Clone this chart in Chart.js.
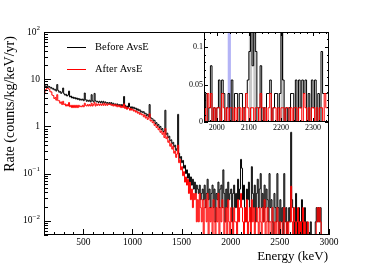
<!DOCTYPE html>
<html>
<head>
<meta charset="utf-8">
<script src="https://cdn.jsdelivr.net/npm/chart.js@4.4.1/dist/chart.umd.min.js"></script>
<style>
html, body { margin: 0; padding: 0; background: #fff; }
#wrap { position: relative; width: 374px; height: 268px; }
#wrap canvas { position: absolute; left: 0; top: 0; }
</style>
</head>
<body>
<div id="wrap">
  <canvas id="main" width="374" height="268"></canvas>
  <canvas id="inset" width="374" height="268"></canvas>
</div>
<script>
// spectrum, 10 keV bins from 100 keV (counts/kg/keV/yr)
const mainStart = 100;
const mainBin = 10;
const beforeRate = [
  6.6, 7.2, 6.9, 7.3, 6.8, 7.0, 6.5, 6.7, 6.2, 6.4,
  5.9, 6.1, 5.6, 7.7, 5.8, 5.3, 5.5, 5.0, 5.3, 6.5,
  4.9, 4.6, 4.8, 4.4, 4.6, 5.6, 4.2, 4.4, 4.0, 4.2,
  3.9, 4.1, 3.8, 4.0, 3.7, 3.9, 3.6, 3.8, 3.6, 3.8,
  3.5, 5.1, 3.7, 3.4, 3.6, 3.4, 3.6, 3.3, 4.7, 3.5,
  3.3, 5.0, 3.5, 3.3, 3.4, 3.2, 3.4, 3.2, 3.4, 3.1,
  3.4, 3.1, 3.3, 3.1, 3.2, 3.0, 3.2, 3.0, 3.2, 2.9,
  3.1, 2.9, 3.0, 2.8, 3.0, 2.8, 2.9, 2.7, 2.9, 2.7,
  2.9, 4.3, 2.8, 2.6, 2.7, 2.5, 3.1, 2.6, 2.4, 2.6,
  2.4, 2.55, 2.35, 2.45, 2.2, 2.35, 2.15, 2.25, 2.0, 2.1,
  1.95, 2.05, 1.85, 1.9, 1.7, 1.8, 1.6, 2.9, 1.55, 1.45,
  1.45, 1.3, 1.35, 1.15, 1.2, 1.05, 1.1, 0.95, 1.0, 0.85,
  0.9, 0.78, 0.8, 2.2, 0.68, 0.72, 0.58, 0.62, 0.5, 0.52,
  0.43, 0.46, 0.37, 0.4, 0.31, 0.34, 1.8, 0.27, 0.21, 0.23,
  0.17, 0.19, 0.13, 0.15, 0.1, 0.12, 0.08, 0.1, 0.066, 0.085,
  0.057, 0.076, 0.047, 0.066, 0.038, 0.057, 0.047, 0.038, 0.057, 0.028,
  0.038, 0.047, 0.028, 0.057, 0.019, 0.038, 0.076, 0.028, 0.047, 0.019,
  0.038, 0.057, 0.019, 0.047, 0.0095, 0.038, 0.028, 0.066, 0.019, 0.047,
  0.057, 0.019, 0.12, 0.038, 0.0095, 0.047, 0.019, 0.066, 0.028, 0.038,
  0.047, 0.0095, 0.038, 0.057, 0.019, 0.038, 0.019, 0.076, 0.028, 0.047,
  0.2, 0.13, 0.028, 0.057, 0.019, 0.0095, 0.047, 0.028, 0.066, 0.019,
  0.0095, 0.14, 0.038, 0.019, 0.057, 0.0095, 0.038, 0.076, 0.019, 0.047,
  0.1, 0.019, 0.038, 0.0095, 0.057, 0.019, 0.047, 0.028, 0.0095, 0.1,
  0.019, 0.028, 0.0095, 0, 0.038, 0.019, 0.0095, 0.1, 0.019, 0,
  0.028, 0.0095, 0.019, 0, 0.1, 0.0095, 0.019, 0, 0.0095, 0.019,
  0.0095, 0.75, 0.028, 0.019, 0.0095, 0, 0.038, 0.0095, 0, 0.019,
  0.0095, 0, 0.028, 0, 0.0095, 0.019, 0, 0.0095, 0, 0,
  0, 0.0095, 0, 0, 0, 0, 0.0095, 0.019, 0.0095, 0.019,
  0.0095, 0.019, 0, 0, 0, 0, 0, 0, 0, 0
];
const afterRate = [
  5.0, 5.9, 6.2, 6.7, 6.3, 6.1, 5.4, 5.4, 4.6, 4.5,
  3.9, 4.1, 3.6, 4.7, 3.5, 3.5, 3.1, 3.3, 2.9, 3.4,
  2.9, 3.0, 2.7, 2.9, 2.7, 3.2, 2.6, 2.8, 2.5, 2.8,
  2.5, 2.8, 2.5, 2.8, 2.5, 2.8, 2.6, 2.7, 2.6, 2.8,
  2.6, 3.1, 2.8, 2.7, 2.9, 2.7, 2.9, 2.7, 3.1, 2.7,
  2.9, 3.2, 2.7, 3.0, 2.8, 3.0, 2.8, 3.0, 2.8, 3.0,
  2.8, 3.1, 2.8, 3.0, 2.8, 3.0, 2.9, 3.0, 2.8, 2.9,
  2.7, 2.9, 2.7, 2.9, 2.6, 2.8, 2.6, 2.8, 2.5, 2.7,
  2.5, 3.0, 2.4, 2.6, 2.3, 2.5, 2.4, 2.2, 2.4, 2.2,
  2.3, 2.1, 2.2, 2.0, 2.1, 1.9, 2.0, 1.8, 1.9, 1.75,
  1.8, 1.6, 1.75, 1.5, 1.6, 1.4, 1.5, 1.85, 1.3, 1.35,
  1.2, 1.25, 1.05, 1.1, 0.95, 1.0, 0.85, 0.9, 0.75, 0.8,
  0.68, 0.74, 0.58, 0.9, 0.55, 0.6, 0.46, 0.5, 0.38, 0.43,
  0.33, 0.38, 0.27, 0.3, 0.22, 0.26, 0.4, 0.17, 0.2, 0.12,
  0.14, 0.09, 0.11, 0.066, 0.085, 0.057, 0.076, 0.038, 0.066, 0.028,
  0.047, 0.019, 0.038, 0.028, 0.038, 0.0095, 0.028, 0.0095, 0.038, 0.019,
  0.0095, 0.028, 0, 0.019, 0.028, 0.0095, 0.038, 0, 0.019, 0.0095,
  0.019, 0, 0.028, 0.0095, 0, 0.019, 0.0095, 0.038, 0, 0.019,
  0.0095, 0.028, 0.019, 0, 0.0095, 0.019, 0, 0.028, 0.0095, 0,
  0.019, 0.0095, 0, 0.019, 0.0095, 0.0095, 0, 0.028, 0.0095, 0.019,
  0.038, 0.019, 0.0095, 0, 0.019, 0.0095, 0.028, 0, 0.0095, 0.019,
  0, 0.028, 0.0095, 0.019, 0, 0.0095, 0.019, 0.0095, 0, 0.019,
  0.0095, 0, 0.019, 0.0095, 0.028, 0, 0.0095, 0.019, 0, 0.0095,
  0.0095, 0, 0.019, 0.0095, 0, 0.0095, 0, 0.019, 0.0095, 0,
  0.0095, 0, 0, 0.0095, 0.019, 0, 0, 0.0095, 0, 0.0095,
  0.0095, 0.054, 0.0095, 0, 0.019, 0.0095, 0, 0.0095, 0.019, 0,
  0.0095, 0, 0.0095, 0.019, 0, 0.0095, 0, 0, 0.0095, 0,
  0, 0, 0, 0, 0, 0, 0, 0.0095, 0.019, 0.0095,
  0.019, 0.0095, 0, 0, 0, 0, 0, 0, 0, 0
];

// inset: 5 keV bins from 1960 keV
const insetStart = 1960;
const insetBin = 5;
const insetBefore = [
  0.019, 0.038, 0, 0.019, 0.075, 0, 0.019, 0, 0.019, 0.056,
  0, 0.056, 0.038, 0, 0.019, 0.038, 0, 0.056, 0, 0.038,
  0.038, 0, 0.038, 0.038, 0, 0.019, 0.038, 0.056, 0.094, 0.131,
  0.075, 0.131, 0.094, 0, 0.019, 0.075, 0, 0.019, 0, 0.038,
  0.038, 0.056, 0, 0.019, 0.038, 0.038, 0, 0.038, 0.131, 0.056,
  0, 0.019, 0, 0.019, 0.038, 0.038, 0, 0.056, 0, 0.056,
  0.019, 0.056, 0.038, 0.056, 0, 0.038, 0, 0.056, 0.019, 0.056,
  0, 0.038, 0, 0.094, 0.038, 0.038, 0.038, 0.038
];
const insetAfter = [
  0.019, 0, 0.038, 0.019, 0.038, 0, 0.019, 0, 0.019, 0.019,
  0, 0.038, 0.019, 0, 0.019, 0, 0.019, 0.019, 0, 0.019,
  0, 0.019, 0.019, 0, 0.019, 0, 0.038, 0.019, 0, 0.019,
  0.019, 0, 0.019, 0.019, 0, 0.038, 0.019, 0, 0.019, 0,
  0.019, 0.038, 0, 0.019, 0.019, 0, 0.019, 0, 0.019, 0.019,
  0, 0.019, 0.019, 0, 0.019, 0, 0.019, 0.019, 0, 0.019,
  0.019, 0, 0.038, 0.019, 0, 0.019, 0, 0.019, 0.019, 0,
  0.019, 0, 0.019, 0.019, 0, 0.038, 0.019, 0.019
];
const insetGrayBands = [[2100, 2110], [2114, 2124], [2199, 2209]];
const insetBlueBand = [2034, 2044];

// axes
const mainXTicks = [500, 1000, 1500, 2000, 2500, 3000];
const mainYTicks = [0.01, 0.1, 1, 10, 100];
const mainYLabels = [['10', '\u22122'], ['10', '\u22121'], ['1', ''], ['10', ''], ['10', '2']];
const insetXTicks = [2000, 2100, 2200, 2300];
const insetYTicks = [0, 0.05, 0.1];
const insetYLabels = ['0', '0.05', '0.1'];

const SERIF = '"Liberation Serif", "DejaVu Serif", serif';

function histPoints(start, width, vals, floor) {
  const pts = vals.map((v, i) => ({ x: start + i * width, y: v > 0 ? v : floor }));
  pts.push({ x: start + vals.length * width, y: pts[pts.length - 1].y });
  return pts;
}

function hline(ctx, x1, x2, y) {
  ctx.beginPath(); ctx.moveTo(x1, y); ctx.lineTo(x2, y); ctx.stroke();
}
function vline(ctx, x, y1, y2) {
  ctx.beginPath(); ctx.moveTo(x, y1); ctx.lineTo(x, y2); ctx.stroke();
}

const mainDecor = {
  id: 'mainDecor',
  afterDraw(chart) {
    const { ctx, chartArea: a, scales: { x, y } } = chart;
    ctx.save();
    ctx.strokeStyle = '#000';
    ctx.lineWidth = 1;
    ctx.strokeRect(a.left + 0.5, a.top + 0.5, a.right - a.left - 1, a.bottom - a.top - 1);

    // x ticks
    for (let v = 100; v <= 3000; v += 100) {
      const px = Math.round(x.getPixelForValue(v)) + 0.5;
      vline(ctx, px, a.bottom, a.bottom - (v % 500 === 0 ? 6 : 3));
    }
    // y ticks (log)
    for (let e = -3; e <= 2; e++) {
      for (let m = 1; m <= 9; m++) {
        const v = m * Math.pow(10, e);
        if (v < y.min || v > y.max) continue;
        const py = Math.round(y.getPixelForValue(v)) + 0.5;
        hline(ctx, a.left, a.left + (m === 1 ? 7 : 4), py);
      }
    }

    ctx.fillStyle = '#000';
    ctx.font = '9.5px ' + SERIF;
    ctx.textAlign = 'center';
    ctx.textBaseline = 'middle';
    mainXTicks.forEach(v => ctx.fillText(String(v), x.getPixelForValue(v), a.bottom + 7));

    mainYTicks.forEach((v, i) => {
      const py = y.getPixelForValue(v);
      const [base, sup] = mainYLabels[i];
      ctx.textAlign = 'right';
      ctx.font = '7px ' + SERIF;
      const sw = sup ? ctx.measureText(sup).width : 0;
      if (sup) ctx.fillText(sup, a.left - 4, py - 4);
      ctx.font = '9.5px ' + SERIF;
      ctx.fillText(base, a.left - 4 - sw, py);
    });

    // legend
    ctx.lineWidth = 1;
    ctx.strokeStyle = '#000';
    hline(ctx, 67, 86, 47.5);
    ctx.strokeStyle = '#ff0000';
    hline(ctx, 67, 86, 69.5);
    ctx.font = '10.5px ' + SERIF;
    ctx.textAlign = 'left';
    ctx.fillText('Before AvsE', 95, 47);
    ctx.fillText('After AvsE', 95, 69);

    // axis titles
    ctx.font = '13px ' + SERIF;
    ctx.textAlign = 'right';
    ctx.fillText('Energy (keV)', a.right - 1, 257);
    ctx.font = '14px ' + SERIF;
    ctx.translate(10, 104);
    ctx.rotate(-Math.PI / 2);
    ctx.textAlign = 'center';
    ctx.fillText('Rate (counts/kg/keV/yr)', 0, 0);
    ctx.restore();
  }
};

const insetDecor = {
  id: 'insetDecor',
  beforeDatasetsDraw(chart) {
    const { ctx, chartArea: a, scales: { x } } = chart;
    ctx.save();
    ctx.fillStyle = '#fff';
    ctx.fillRect(a.left, a.top, a.right - a.left, a.bottom - a.top);
    ctx.fillStyle = '#c8c8c8';
    insetGrayBands.forEach(([e1, e2]) => {
      const x1 = x.getPixelForValue(e1), x2 = x.getPixelForValue(e2);
      ctx.fillRect(x1, a.top, x2 - x1, a.bottom - a.top);
    });
    ctx.fillStyle = '#b4b4f6';
    const b1 = x.getPixelForValue(insetBlueBand[0]), b2 = x.getPixelForValue(insetBlueBand[1]);
    ctx.fillRect(b1, a.top, b2 - b1, a.bottom - a.top);
    ctx.restore();
  },
  afterDraw(chart) {
    const { ctx, chartArea: a, scales: { x, y } } = chart;
    ctx.save();
    ctx.strokeStyle = '#000';
    ctx.lineWidth = 1;
    ctx.strokeRect(a.left + 0.5, a.top + 0.5, a.right - a.left - 1, a.bottom - a.top - 1);
    for (let v = 1960; v <= 2350; v += 20) {
      const px = Math.round(x.getPixelForValue(v)) + 0.5;
      const len = v % 100 === 0 ? 4 : 2;
      vline(ctx, px, a.bottom, a.bottom - len);
      vline(ctx, px, a.top, a.top + len);
    }
    for (let k = 0; k <= 12; k++) {
      const v = k / 100;
      const py = Math.round(y.getPixelForValue(v)) + 0.5;
      const len = k % 5 === 0 ? 4 : 2;
      hline(ctx, a.left, a.left + len, py);
      hline(ctx, a.right, a.right - len, py);
    }
    ctx.fillStyle = '#000';
    ctx.font = '8px ' + SERIF;
    ctx.textAlign = 'center';
    ctx.textBaseline = 'middle';
    insetXTicks.forEach(v => ctx.fillText(String(v), x.getPixelForValue(v), a.bottom + 6));
    ctx.textAlign = 'right';
    insetYTicks.forEach((v, i) => ctx.fillText(insetYLabels[i], a.left - 1, y.getPixelForValue(v)));
    ctx.restore();
  }
};

function lineSet(points, color, order) {
  return {
    data: points,
    borderColor: color,
    borderWidth: 1,
    pointRadius: 0,
    stepped: true,
    fill: false,
    order: order
  };
}

new Chart(document.getElementById('main'), {
  type: 'line',
  data: {
    datasets: [
      lineSet(histPoints(mainStart, mainBin, beforeRate, 0.001), '#000000', 1),
      lineSet(histPoints(mainStart, mainBin, afterRate, 0.001), '#ff0000', 0)
    ]
  },
  options: {
    responsive: false,
    animation: false,
    events: [],
    layout: { padding: { left: 44, right: 45, top: 32, bottom: 33 } },
    plugins: { legend: { display: false }, tooltip: { enabled: false } },
    scales: {
      x: { type: 'linear', min: 100, max: 3000, display: false },
      y: { type: 'logarithmic', min: 0.005, max: 100, display: false }
    }
  },
  plugins: [mainDecor]
});

new Chart(document.getElementById('inset'), {
  type: 'line',
  data: {
    datasets: [
      lineSet(histPoints(insetStart, insetBin, insetBefore, 0), '#000000', 1),
      lineSet(histPoints(insetStart, insetBin, insetAfter, 0), '#ff0000', 0)
    ]
  },
  options: {
    responsive: false,
    animation: false,
    events: [],
    layout: { padding: { left: 204, right: 45, top: 32, bottom: 146 } },
    plugins: { legend: { display: false }, tooltip: { enabled: false } },
    scales: {
      x: { type: 'linear', min: 1960, max: 2350, display: false },
      y: { type: 'linear', min: 0, max: 0.12, display: false }
    }
  },
  plugins: [insetDecor]
});
</script>
</body>
</html>
